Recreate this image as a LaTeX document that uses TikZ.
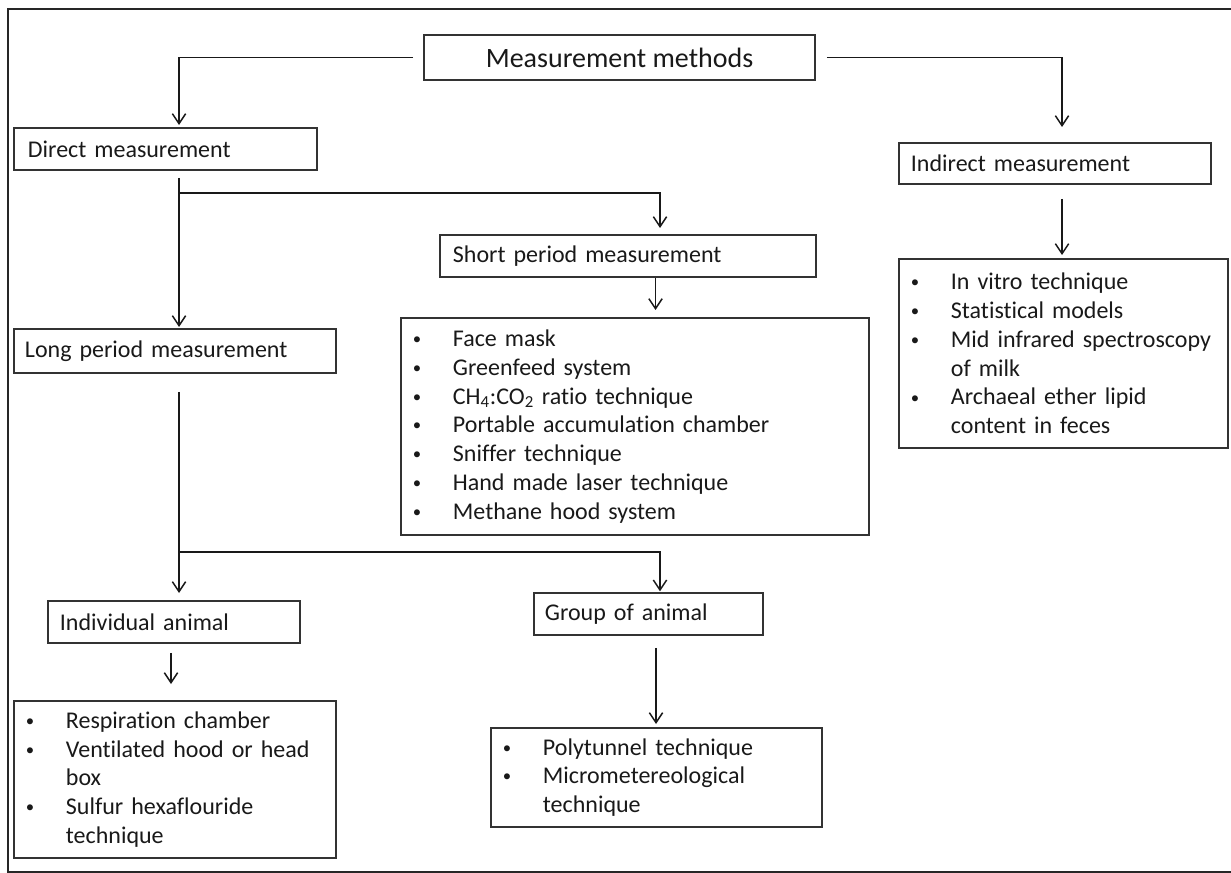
\documentclass[tikz,border=0pt]{standalone}
\usepackage{fontspec}
\usepackage{graphicx}
\setmainfont{Carlito}[Ligatures=NoCommon]
\usetikzlibrary{arrows.meta,calc}
\newcommand\bul[1]{\makebox[30pt][l]{\raisebox{1.4pt}{\scalebox{0.7}{\textbullet}}}#1}
\newcommand\cont[1]{\hspace*{30pt}#1}
\begin{document}
\begin{tikzpicture}[x=0.75pt,y=-0.75pt,
  every node/.style={font=\fontsize{18}{21.6}\selectfont, text=black!90},
  box/.style={draw=black!80, line width=1.4pt, anchor=north west, inner ysep=0pt, align=left},
  arr/.style={draw=black!90, line width=1.1pt, -{Straight Barb[length=7.5pt,width=10pt]}},
  ln/.style={draw=black!90, line width=1.1pt}]
\useasboundingbox (0,0) rectangle (1231,873);
\draw[line width=1.5pt, draw=black!85] (7.5,9.5) rectangle (1245,872);

% nodes
\node[draw=black!80, line width=1.4pt, minimum width=293.25pt, minimum height=33.75pt, inner sep=0pt,
      font=\fontsize{21}{25}\selectfont] (title) at (619.5,57.5) {Measurement methods};
\node[box, inner xsep=10.5pt, text width=206.25pt, minimum height=31.5pt] (direct) at (13,127) {Direct measurement};
\node[box, inner xsep=9pt, text width=216pt, minimum height=30.75pt] (indirect) at (898,142) {Indirect measurement};
\node[box, inner xsep=9.75pt, text width=262.5pt, minimum height=31.5pt] (short) at (439,234) {Short period measurement};
\node[box, inner xsep=9pt, text width=333pt, minimum height=162.75pt] (shortlist) at (400,317)
  {\bul{Face mask}\\ \bul{Greenfeed system}\\ \bul{CH\textsubscript{4}:CO\textsubscript{2} ratio technique}\\
   \bul{Portable accumulation chamber}\\ \bul{Sniffer technique}\\ \bul{Hand made laser technique}\\ \bul{Methane hood system}};
\node[box, inner xsep=9pt, text width=228.75pt, minimum height=141.75pt] (indlist) at (898,258)
  {\bul{In vitro technique}\\ \bul{Statistical models}\\ \bul{Mid infrared spectroscopy}\\ \cont{of milk}\\
   \bul{Archaeal ether lipid}\\ \cont{content in feces}};
\node[box, inner xsep=8.25pt, text width=225pt, minimum height=33pt] (long) at (13,328) {Long period measurement};
\node[box, inner xsep=9pt, text width=171pt, minimum height=31.5pt] (indiv) at (47,600) {Individual animal};
\node[box, inner xsep=8.25pt, text width=155.25pt, minimum height=31.5pt] (group) at (533,592) {Group of animal};
\node[box, inner xsep=9pt, text width=223.5pt, minimum height=117.75pt] (indivlist) at (13,700)
  {\bul{Respiration chamber}\\ \bul{Ventilated hood or head}\\ \cont{box}\\ \bul{Sulfur hexaflouride}\\ \cont{technique}};
\node[box, inner xsep=9pt, text width=230.25pt, minimum height=74.25pt] (grouplist) at (490,727)
  {\bul{Polytunnel technique}\\ \bul{Micrometereological}\\ \cont{technique}};

% guide coordinates
\coordinate (dx) at (179,0);
\coordinate (ix) at (1062,0);
\coordinate (sx) at (660,0);
\coordinate (slx) at (655.5,0);
\coordinate (ax) at (171,0);
\coordinate (gx) at (656,0);
\coordinate (jd) at (179,193);
\coordinate (jl) at (179,552);

% connectors
\draw[arr] ([xshift=-7.5pt]title.west) -| ([yshift=1.5pt]dx |- direct.north);
\draw[arr] ([xshift=8.25pt]title.east) -| ([yshift=11.25pt]ix |- indirect.north);
\draw[arr] ([yshift=-5.25pt]dx |- direct.south) -- ([yshift=0.75pt]dx |- long.north);
\draw[arr] (jd) -| ([yshift=4.5pt]sx |- short.north);
\draw[arr] (slx |- short.south) -- ([yshift=5.25pt]slx |- shortlist.north);
\draw[arr] ([yshift=-10.5pt]ix |- indirect.south) -- ([yshift=2.25pt]ix |- indlist.north);
\draw[arr] ([yshift=-13.5pt]dx |- long.south) -- ([yshift=5.25pt]dx |- indiv.north);
\draw[arr] (jl) -| ([yshift=0.5pt]sx |- group.north);
\draw[arr] ([yshift=-6.75pt]ax |- indiv.south) -- ([yshift=12pt]ax |- indivlist.north);
\draw[arr] ([yshift=-9pt]gx |- group.south) -- ([yshift=2.25pt]gx |- grouplist.north);
\end{tikzpicture}
\end{document}
